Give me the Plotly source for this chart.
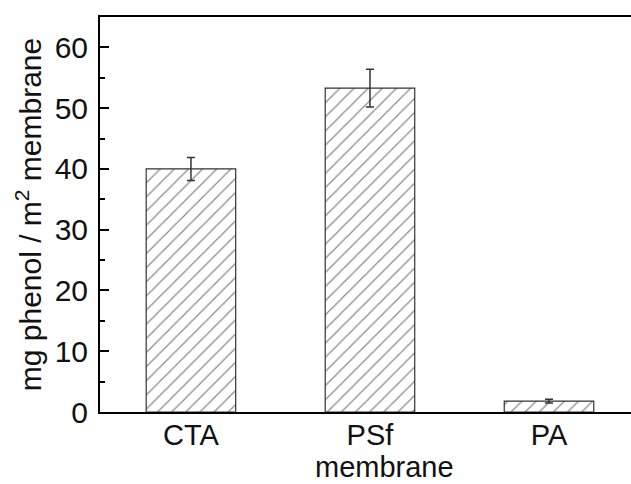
import plotly.graph_objects as go

categories = ["CTA", "PSf", "PA"]
values = [40.0, 53.3, 1.8]
errors = [1.9, 3.1, 0.3]
y_ticks = [0, 10, 20, 30, 40, 50, 60]

fig = go.Figure()
fig.add_trace(go.Bar(
    x=categories, y=values,
    width=0.5,
    marker=dict(
        color="white",
        line=dict(color="#333333", width=1.2),
        pattern=dict(shape="/", fgcolor="#111111", bgcolor="white", size=10, solidity=0.12),
    ),
    error_y=dict(type="data", array=errors, visible=True, color="#333333", thickness=1.5, width=4),
))

font = "Liberation Sans, Arial, sans-serif"
fig.update_layout(
    width=631, height=484,
    margin=dict(l=100, r=0, t=17, b=72),
    plot_bgcolor="white", paper_bgcolor="white",
    showlegend=False,
    font=dict(family=font, size=30, color="black"),
    xaxis=dict(
        range=[-0.508, 2.458],
        showline=True, linecolor="black", linewidth=2, mirror=True,
        ticks="", showgrid=False, zeroline=False, ticklabelstandoff=-4,
        tickfont=dict(family=font, size=29, color="#111111"),
    ),
    yaxis=dict(
        range=[0, 65],
        showline=True, linecolor="black", linewidth=2, mirror=False,
        ticks="inside", ticklen=9, tickwidth=1.5, tickcolor="black",
        tickvals=y_ticks, ticklabelstandoff=4,
        minor=dict(ticks="inside", ticklen=5, tickwidth=1.5, tickcolor="black", dtick=5, showgrid=False),
        showgrid=False, zeroline=False,
        tickfont=dict(family=font, size=30, color="#111111"),
        title=dict(text="mg phenol / m<sup>2</sup> membrane", font=dict(family=font, size=30, color="#111111"), standoff=4),
    ),
    annotations=[dict(
        text="membrane", xref="paper", yref="paper", x=0.535, y=-0.14,
        xanchor="center", yanchor="middle", showarrow=False, borderpad=0,
        font=dict(family=font, size=29, color="#111111"),
    )],
)

fig.write_html("out.html")
